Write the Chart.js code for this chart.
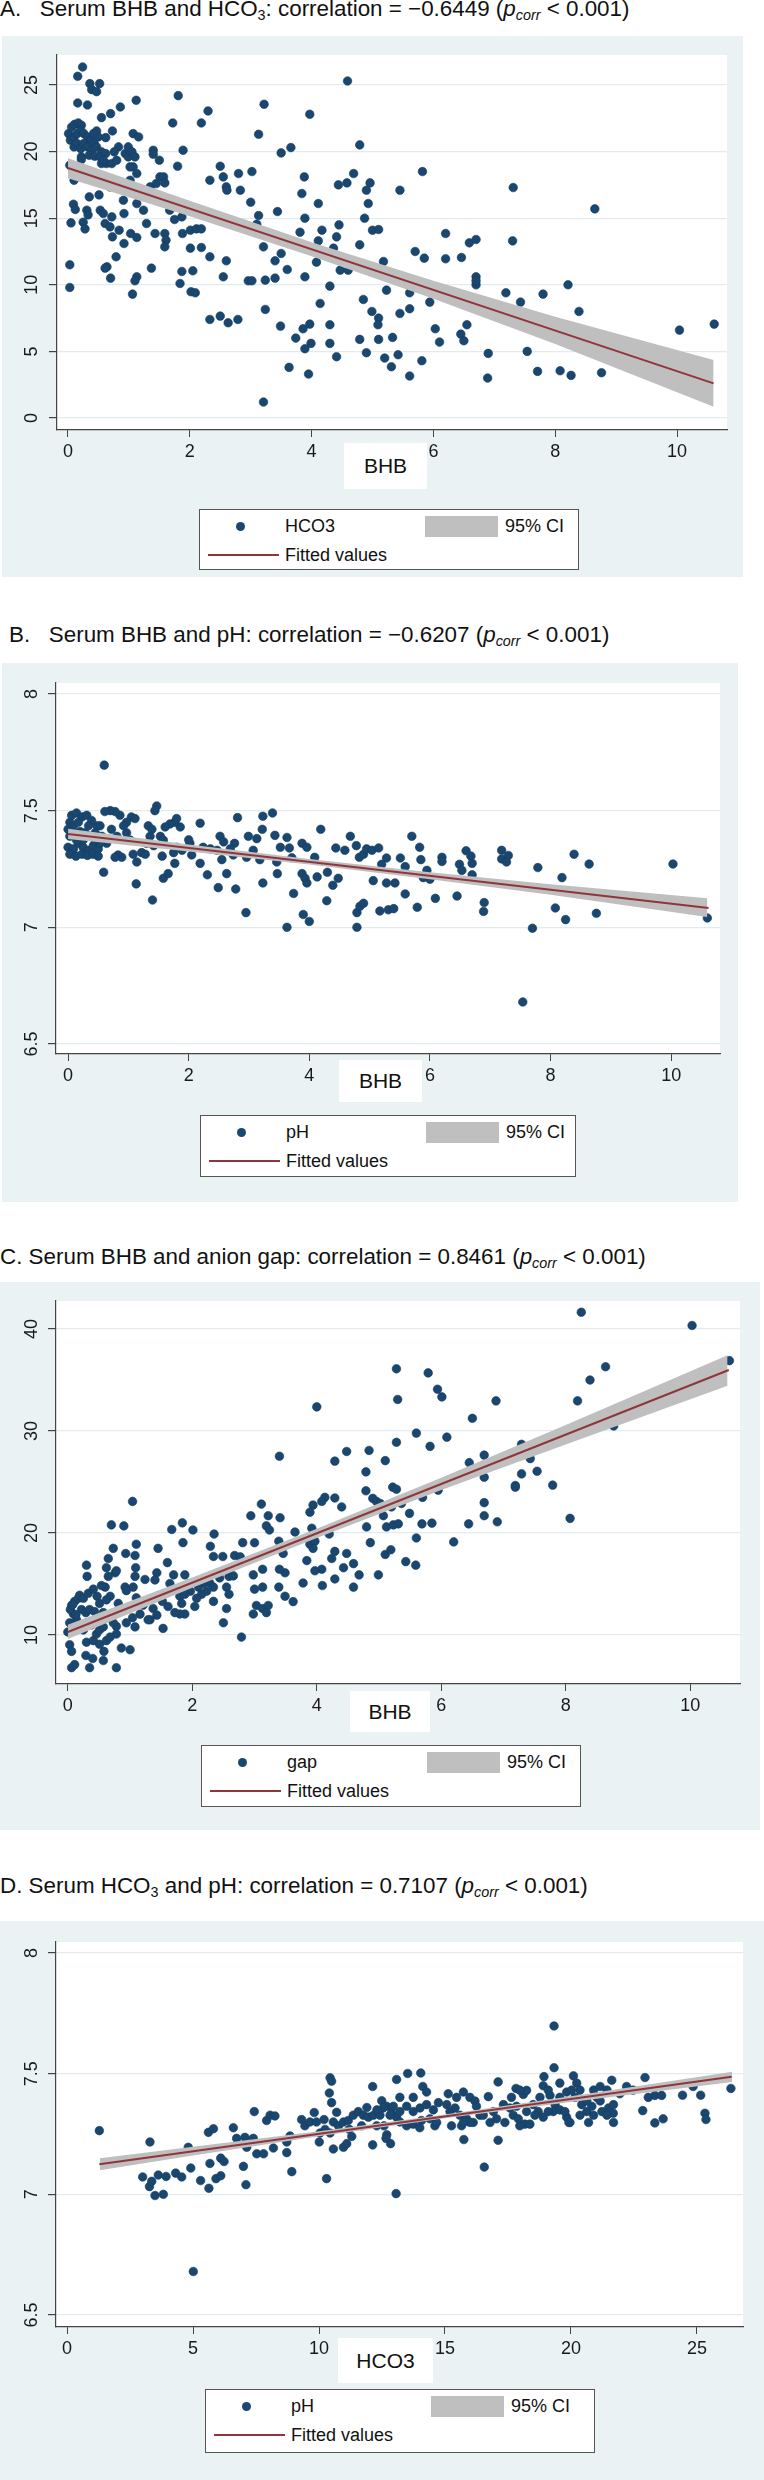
<!DOCTYPE html>
<html lang="en">
<head>
<meta charset="UTF-8">
<title>Serum BHB, HCO3, pH and anion gap</title>
<script src="https://cdn.jsdelivr.net/npm/chart.js"></script>
<style>
  body { margin: 0; width: 764px; height: 2480px; position: relative; overflow: hidden; background: #fff;
         font-family: "Liberation Sans", Arial, sans-serif; color: #111; }
  .title { position: absolute; font-size: 22.4px; line-height: 24px; white-space: nowrap; }
  .title sub { font-size: 64%; line-height: 0; vertical-align: -0.25em; }
  .bg { position: absolute; background: #eaf2f3; }
  .bg canvas { position: absolute; left: 0; top: 0; }
  .xtitle { position: absolute; background: #fff; font-size: 21px; text-align: center; }
  .legend { position: absolute; background: #fff; border: 1px solid #555; box-sizing: border-box; font-size: 18px; }
  .legend span { position: absolute; white-space: nowrap; line-height: 20px; }
  .legend .dot { width: 9px; height: 9px; border-radius: 50%; background: #1a476f; }
  .legend .band { background: #bfbfbf; }
  .legend .fit { height: 2px; background: #90353b; }
</style>
</head>
<body>
<script>
// ---- data ----
const bhbTicks = [0, 2, 4, 6, 8, 10];
const hco3Ticks = [0, 5, 10, 15, 20, 25];
const phTicks = [6.5, 7, 7.5, 8];
const gapTicks = [10, 20, 30, 40];

// A: BHB vs HCO3
const pointsA = [
  [0.24,26.35],[0.16,25.65],[0.36,25.1],[0.39,24.65],[0.47,24.5],[0.52,25.1],[0.16,23.65],[0.32,23.5],[0.55,22.55],[0.70,22.85],
  [0.86,23.35],[1.12,23.85],[1.81,24.2],[2.30,23.05],[2.19,22.15],[1.72,22.15],[3.22,23.55],[3.97,22.8],[4.59,25.3],[3.13,21.3],
  [0.47,21.55],[0.73,21.55],[1.07,21.35],[1.16,21.1],[1.40,20.1],[1.40,19.8],[1.89,20.1],[3.50,19.9],[3.66,20.3],[4.79,20.5],
  [1.50,19.35],[1.51,18.1],[1.80,18.9],[2.50,18.9],[2.55,18.1],[2.60,17.35],[2.61,17.1],[2.80,18.35],[2.83,17.1],[3.02,18.5],
  [2.33,17.85],[3.88,18.1],[3.84,16.85],[4.69,18.35],[4.44,17.5],[4.58,17.65],[4.11,16.1],[3.00,16.2],[3.13,15.2],[3.10,14.55],
  [3.44,15.5],[3.89,15.0],[3.81,13.95],[4.17,14.1],[4.11,13.3],[4.45,14.5],[4.41,13.6],[4.36,12.75],[1.57,18.1],[1.59,17.65],
  [1.35,17.35],[1.45,17.6],[1.13,18.35],[1.02,17.85],[0.10,17.85],[0.06,18.85],[0.69,17.35],[0.35,16.6],[0.51,16.75],[0.09,16.05],
  [0.12,15.65],[0.31,15.6],[0.33,15.25],[0.53,15.6],[0.58,15.35],[0.91,16.35],[0.92,15.35],[1.13,16.1],[1.24,15.6],[0.05,14.65],
  [0.25,14.7],[0.28,14.2],[0.61,14.6],[0.69,14.35],[0.72,15.1],[0.84,14.1],[0.73,13.6],[0.92,13.1],[1.03,13.85],[1.13,13.55],
  [1.29,14.6],[1.43,13.85],[1.59,13.85],[1.61,13.35],[1.59,12.85],[1.67,15.6],[1.75,14.9],[1.88,13.85],[2.01,14.1],[2.11,14.2],
  [2.19,14.2],[2.01,12.75],[2.19,12.8],[1.87,15.1],[2.33,12.1],[2.60,11.8],[2.55,10.6],[1.37,11.25],[0.64,11.35],[0.61,11.25],
  [0.79,12.1],[0.70,10.5],[0.03,11.5],[0.03,9.8],[1.13,10.6],[1.10,10.3],[1.06,9.3],[1.87,11.0],[1.84,10.1],[2.05,11.05],
  [2.02,9.48],[2.09,9.4],[2.96,10.3],[3.02,10.3],[3.24,10.35],[3.40,10.5],[3.40,11.8],[3.50,12.35],[3.60,11.15],[3.21,12.85],
  [4.08,11.7],[3.89,10.6],[4.30,9.9],[4.14,8.6],[3.24,8.15],[2.33,7.4],[2.50,7.65],[2.63,7.15],[2.79,7.4],[3.49,6.9],
  [3.74,6.0],[3.86,6.7],[3.97,7.05],[3.99,5.6],[3.89,5.2],[4.30,7.0],[4.30,5.6],[4.41,4.6],[3.63,3.8],[3.95,3.3],
  [3.21,1.2],[4.47,11.1],[4.60,11.1],[4.79,13.0],[4.87,15.0],[4.93,16.1],[4.90,17.1],[4.96,17.65],[5.00,14.1],[5.10,14.15],
  [5.18,11.75],[5.23,9.6],[4.85,8.9],[4.99,8.0],[5.10,7.5],[5.09,7.0],[4.79,5.9],[4.90,4.9],[5.10,5.9],[5.20,4.5],
  [5.31,3.85],[5.33,6.05],[5.42,4.75],[5.45,7.85],[5.45,17.1],[5.61,8.2],[5.61,9.4],[5.61,3.15],[5.70,12.5],[5.81,4.3],
  [5.82,18.5],[5.85,12.0],[5.94,8.7],[6.03,6.7],[6.10,5.7],[6.20,13.85],[6.20,11.95],[6.46,12.05],[6.45,6.3],[6.50,5.8],
  [6.55,7.0],[6.59,13.15],[6.70,13.4],[6.70,10.6],[6.70,10.0],[6.70,10.3],[6.90,4.85],[6.89,3.0],[7.19,9.4],[7.30,13.3],
  [7.31,17.3],[7.43,8.7],[7.54,5.0],[7.71,3.5],[7.80,9.3],[8.08,3.55],[8.21,10.0],[8.26,3.2],[8.39,8.0],[8.65,15.7],
  [8.76,3.4],[10.04,6.6],[10.61,7.05],
  [0.01,21.35],[0.06,21.85],[0.11,22.05],[0.17,22.15],[0.22,21.98],[0.04,20.85],[0.10,21.1],[0.15,21.35],[0.21,21.6],[0.26,21.35],
  [0.32,21.1],[0.37,20.85],[0.43,20.6],[0.10,20.35],[0.15,20.6],[0.21,20.22],[0.26,20.6],[0.32,20.35],[0.39,20.1],[0.47,20.35],
  [0.55,19.98],[0.22,19.6],[0.35,19.72],[0.44,19.65],[0.53,19.6],[0.62,19.85],[0.63,19.1],[0.72,19.1],[0.80,19.35],[0.83,20.35],
  [0.76,19.98],[0.94,19.85],[0.99,19.6],[1.02,18.85],[0.55,19.1],[0.58,19.35],[0.22,19.4],[0.03,18.98],[0.50,21.1],[0.42,21.35],
  [0.62,21.05],[0.99,20.35],[1.05,19.98],[1.10,19.6],[1.07,18.85]
];
const fitXA = [0, 10.6];
const fitYA = [18.77, 2.6];
const ciXA = [0, 2, 4, 6, 8, 10.6];
const ciHiA = [19.5, 16.3, 13.2, 10.3, 7.6, 4.35];
const ciLoA = [18.0, 15.15, 12.15, 8.95, 5.55, 0.85];

// B: BHB vs pH
const pointsB = [
  [0.60,7.695],[1.47,7.52],[1.44,7.50],[0.59,7.236],[1.13,7.186],[1.40,7.117],[1.58,7.21],[1.66,7.23],[1.56,7.305],[2.19,7.446],
  [2.31,7.225],[2.49,7.17],[2.63,7.23],[2.78,7.164],[2.81,7.47],[2.95,7.063],[2.99,7.39],[3.13,7.38],[3.23,7.476],[3.22,7.42],
  [3.39,7.49],[3.23,7.19],[3.43,7.394],[3.63,7.385],[3.47,7.23],[3.74,7.145],[3.63,7.0],[3.88,7.36],[3.96,7.343],[3.88,7.23],
  [3.93,7.21],[3.96,7.19],[3.90,7.055],[4.00,7.025],[4.09,7.30],[4.13,7.216],[4.19,7.42],[4.29,7.114],[4.30,7.236],[4.39,7.18],
  [4.44,7.34],[4.48,7.21],[4.59,7.33],[4.68,7.39],[4.78,7.35],[4.79,7.0],[4.79,7.063],[4.84,7.09],[4.90,7.103],[4.83,7.30],
  [4.90,7.313],[4.95,7.336],[5.04,7.33],[5.15,7.34],[5.06,7.20],[3.71,7.298],[3.67,7.34],[3.52,7.343],[3.46,7.28],[3.07,7.33],
  [3.18,7.29],[2.96,7.30],[2.74,7.31],[2.76,7.36],[2.52,7.39],[2.47,7.33],[2.58,7.366],[2.69,7.336],[2.55,7.29],[2.36,7.336],
  [2.24,7.343],[2.19,7.274],[2.02,7.36],[2.00,7.375],[1.89,7.33],[1.80,7.343],[2.05,7.31],[1.75,7.32],[1.77,7.274],[1.86,7.43],
  [1.77,7.45],[1.69,7.443],[1.61,7.43],[1.80,7.466],[1.53,7.39],[1.58,7.374],[1.36,7.39],[1.30,7.36],[1.42,7.35],[1.33,7.435],
  [1.39,7.42],[1.22,7.32],[1.28,7.313],[1.08,7.313],[1.14,7.28],[1.03,7.374],[0.97,7.405],[1.05,7.473],[1.11,7.466],[0.97,7.45],
  [0.92,7.435],[0.86,7.48],[0.78,7.496],[0.70,7.50],[0.61,7.496],[0.83,7.31],[0.89,7.30],[0.78,7.30],[0.81,7.39],[0.72,7.42],
  [0.64,7.36],[0.56,7.39],[0.53,7.435],
  [0.00,7.42],[0.03,7.45],[0.06,7.48],[0.14,7.49],[0.23,7.473],[0.31,7.48],[0.39,7.458],[0.48,7.435],[0.03,7.39],[0.12,7.40],
  [0.20,7.41],[0.28,7.405],[0.36,7.39],[0.45,7.405],[0.00,7.343],[0.09,7.336],[0.17,7.36],[0.25,7.343],[0.34,7.33],[0.42,7.35],
  [0.50,7.336],[0.03,7.313],[0.13,7.305],[0.23,7.313],[0.32,7.308],[0.41,7.313],[0.50,7.305],[0.09,7.435],[0.17,7.45],[0.34,7.435],
  [0.25,7.374],[0.14,7.374],[0.53,7.36],[0.45,7.374],
  [5.70,7.39],[5.83,7.343],[5.85,7.29],[5.95,7.244],[6.00,7.206],[5.89,7.213],[6.20,7.30],[6.20,7.282],[6.09,7.124],[5.79,7.086],
  [6.45,7.134],[6.49,7.27],[6.53,7.244],[6.60,7.328],[6.68,7.305],[6.70,7.274],[6.70,7.225],[6.90,7.106],[6.89,7.068],[7.19,7.33],
  [7.19,7.293],[7.30,7.308],[7.27,7.28],[7.54,6.68],[7.70,6.996],[7.79,7.256],[8.08,7.083],[8.19,7.213],[8.25,7.033],[8.39,7.313],
  [8.64,7.271],[8.76,7.06],[10.03,7.271],[10.60,7.04],[5.28,7.297],[5.20,7.27],[5.28,7.19],[5.42,7.19],[5.17,7.07],[5.31,7.075],
  [5.51,7.297],[5.59,7.26],[5.59,7.143],[5.40,7.08]
];
const fitXB = [0, 10.62];
const fitYB = [7.40, 7.083];
const ciXB = [0, 2, 4, 6, 8, 10.6];
const ciHiB = [7.422, 7.355, 7.293, 7.236, 7.185, 7.124];
const ciLoB = [7.378, 7.325, 7.269, 7.206, 7.139, 7.044];

// C: BHB vs anion gap
const pointsC = [
  [4.00,32.37],[3.40,27.53],[4.29,27.05],[4.48,28.0],[4.79,26.0],[4.84,28.1],[4.79,24.14],[5.10,27.1],[5.28,36.1],[5.28,28.9],
  [5.22,24.5],[5.28,24.3],[4.29,23.44],[4.40,22.56],[4.13,23.5],[4.08,23.1],[3.94,22.74],[3.89,22.04],[3.11,22.84],[2.94,21.7],
  [3.22,21.7],[3.19,20.7],[3.41,21.5],[3.65,20.1],[3.92,20.47],[4.20,19.9],[4.80,20.6],[4.90,23.4],[4.96,23.1],[5.02,22.9],
  [5.07,21.7],[5.12,20.6],[5.23,20.8],[4.86,19.06],[4.99,15.9],[5.10,17.9],[5.19,18.36],[4.59,17.0],[4.68,15.9],[4.59,14.7],
  [4.43,16.6],[4.48,18.0],[4.29,18.2],[4.24,17.5],[4.29,15.5],[4.08,16.45],[3.97,16.3],[4.09,14.85],[3.84,17.3],[3.78,15.1],
  [3.89,18.9],[3.97,19.2],[3.94,18.5],[3.62,13.28],[3.49,13.8],[3.49,16.1],[3.40,16.45],[3.39,14.7],[3.46,18.0],[3.39,19.2],
  [3.24,20.3],[3.13,16.45],[3.13,14.7],[2.98,15.9],[3.00,14.5],[3.00,19.05],[3.03,12.9],[3.13,12.6],[3.22,12.9],[2.98,12.06],
  [3.19,12.2],[2.81,19.06],[2.68,17.8],[2.77,17.66],[2.79,9.8],[2.60,16.45],[2.59,15.75],[2.66,15.8],[2.55,14.7],[2.59,14.0],
  [2.55,12.6],[2.50,11.2],[2.44,15.6],[2.49,17.7],[2.34,17.7],[2.29,18.7],[2.35,19.9],[2.28,15.1],[2.34,14.7],[2.34,13.3],
  [2.23,14.3],[2.15,14.0],[2.18,15.05],[2.10,14.7],[2.07,13.6],[2.01,20.3],[1.97,14.3],[2.04,12.8],[1.95,15.05],[1.88,15.9],
  [1.85,19.06],[1.84,21.0],[1.83,14.7],[1.80,13.8],[1.88,14.0],[1.83,13.1],[1.88,12.06],[1.80,12.06],[1.67,20.35],[1.60,17.1],
  [1.70,15.9],[1.64,15.05],[1.72,12.2],[1.61,12.8],[1.53,14.0],[1.52,13.3],[1.45,18.5],[1.43,16.1],[1.40,15.4],[1.37,12.6],
  [1.43,11.95],[1.32,11.5],[1.53,10.65],[1.24,15.45],[1.21,12.93],[1.16,12.05],[1.29,11.5],[1.10,18.9],[1.08,17.8],[1.04,23.1],
  [1.09,16.6],[1.08,15.75],[1.05,14.7],[1.10,13.65],[1.04,11.7],[1.08,10.8],[0.93,18.0],[0.90,20.7],[0.73,18.5],[0.70,20.8],
  [0.92,14.7],[0.94,14.35],[0.97,12.6],[0.94,11.2],[1.00,8.56],[0.86,8.73],[0.78,6.8],[0.76,16.1],[0.62,16.6],[0.65,15.75],
  [0.81,13.1],[0.81,12.2],[0.78,10.85],[0.78,10.1],[0.68,13.8],[0.60,14.7],[0.54,14.85],[0.58,8.4],[0.72,11.9],[0.73,11.2],
  [0.03,9.05],[0.06,8.4],[0.06,6.8],[0.11,7.1],[0.29,8.0],[0.35,6.8],[0.40,7.7],[0.57,7.5],[0.30,9.3],[0.41,9.45],
  [0.51,9.1],[0.62,9.45],[0.68,9.8],[0.46,10.1],[0.51,10.5],[0.57,10.8],[0.30,11.2],[0.14,11.5],[0.09,12.06],[0.03,11.2],
  [0.00,10.3],[0.06,12.9],[0.11,13.3],[0.17,13.6],[0.22,12.5],[0.29,12.2],[0.35,12.5],[0.43,12.3],[0.19,13.9],[0.25,13.6],
  [0.33,14.1],[0.30,16.85],[0.31,15.75],[0.41,14.5],[0.47,13.8],[0.51,13.1],[0.57,12.2],[0.61,11.7],[0.62,13.45],[0.65,17.5],
  [0.78,16.3],[0.04,12.5],[0.08,13.0],[0.13,12.0],[0.20,11.0],[0.25,10.5],[0.38,11.0],[0.45,11.5],
  [8.25,41.65],[10.03,40.35],[10.63,36.9],[5.79,35.7],[5.94,34.1],[6.01,33.35],[5.30,33.1],[6.50,31.25],[6.88,32.96],[8.64,36.3],
  [8.39,35.0],[8.19,32.96],[5.60,29.8],[6.09,29.4],[5.82,28.5],[6.45,26.9],[6.69,27.64],[6.69,25.47],[7.29,28.7],[7.43,27.3],
  [7.29,25.8],[7.19,24.66],[7.19,24.5],[7.54,26.06],[7.79,24.7],[8.77,30.5],[8.07,21.44],[5.70,23.5],[5.95,24.2],[5.36,22.9],
  [5.20,22.56],[5.49,21.93],[5.31,20.9],[5.69,20.9],[5.85,20.97],[5.60,19.52],[6.44,20.9],[6.69,22.98],[6.69,21.7],[6.90,21.1],
  [6.20,19.13],[5.43,17.2],[5.59,16.85]
];
const fitXC = [0, 10.62];
const fitYC = [10.3, 35.98];
const ciXC = [0, 2, 4, 6, 8, 10.6];
const ciHiC = [11.0, 15.64, 20.42, 25.41, 30.59, 37.43];
const ciLoC = [9.6, 14.64, 19.52, 24.21, 28.69, 34.43];

// D: HCO3 vs pH
const pointsD = [
  [1.28,7.264],[3.29,7.217],[3.00,7.072],[3.27,7.032],[3.36,7.054],[3.49,6.995],[3.82,7.0],[3.62,7.08],[3.93,7.074],[4.31,7.088],
  [4.55,7.072],[4.81,7.195],[4.91,7.109],[5.01,6.68],[5.30,7.057],[5.63,7.025],[5.61,7.257],[5.81,7.272],[5.67,7.128],[5.91,7.065],
  [6.10,7.077],[6.10,7.15],[6.23,7.136],[6.60,7.276],[6.73,7.232],[7.06,7.236],[7.39,7.232],[7.00,7.116],[7.10,7.04],[7.13,7.195],
  [7.43,7.343],[7.53,7.168],[7.80,7.168],[7.92,7.306],[8.06,7.328],[8.25,7.325],[8.19,7.192],[8.72,7.173],[8.72,7.217],[8.85,7.242],
  [8.92,7.094],[9.31,7.31],[9.44,7.284],[9.64,7.30],[9.81,7.339],[10.04,7.254],[10.24,7.269],[10.44,7.254],[10.01,7.217],[10.30,7.065],
  [10.44,7.483],[10.50,7.469],[10.41,7.42],[10.50,7.38],[10.57,7.188],[10.97,7.195],[11.10,7.21],[10.57,7.30],[10.77,7.284],[10.97,7.30],
  [11.16,7.306],[11.30,7.24],[11.36,7.328],[11.56,7.343],[11.76,7.328],[11.96,7.32],[11.69,7.284],[12.13,7.447],[12.13,7.205],[12.16,7.328],
  [12.29,7.284],[12.49,7.388],[12.69,7.365],[12.88,7.336],[12.69,7.247],[12.84,7.21],[13.08,7.476],[13.06,7.003],[13.08,7.32],[12.55,7.358],
  [12.42,7.328],[13.52,7.501],[14.04,7.503],[14.12,7.447],[12.95,7.365],[13.21,7.343],[13.48,7.365],[13.74,7.343],[14.01,7.358],[14.27,7.372],
  [14.54,7.35],[14.74,7.38],[13.21,7.30],[13.48,7.284],[13.74,7.291],[14.07,7.306],[14.40,7.313],[14.60,7.284],[15.13,7.417],[15.46,7.402],
  [15.73,7.424],[15.99,7.402],[16.19,7.387],[15.20,7.343],[15.59,7.328],[15.86,7.313],[16.12,7.298],[16.39,7.328],[15.26,7.284],[15.66,7.284],
  [15.99,7.298],[15.75,7.227],[16.72,7.405],[16.56,7.113],[17.11,7.466],[17.11,7.224],[16.92,7.343],[17.32,7.372],[17.58,7.358],[17.05,7.313],
  [17.38,7.298],[17.71,7.328],[17.82,7.439],[18.11,7.414],[18.24,7.431],[17.91,7.313],[18.17,7.291],[17.97,7.284],[18.50,7.372],[18.70,7.343],
  [18.90,7.32],[18.57,7.328],[18.93,7.488],[18.90,7.45],[19.33,7.698],[19.33,7.525],[19.17,7.41],[19.37,7.372],[19.56,7.461],[19.30,7.343],
  [19.10,7.432],[19.56,7.35],[19.83,7.32],[19.96,7.298],[19.83,7.424],[20.10,7.491],[20.23,7.461],[20.36,7.432],[20.16,7.402],[20.43,7.372],
  [20.63,7.343],[20.83,7.365],[21.03,7.402],[20.90,7.432],[21.16,7.447],[21.43,7.432],[21.62,7.473],[21.23,7.343],[21.49,7.358],[21.68,7.336],
  [19.92,7.298],[21.94,7.417],[22.21,7.447],[22.47,7.432],[22.85,7.347],[22.94,7.484],[23.07,7.402],[23.33,7.41],[23.60,7.41],[23.33,7.296],
  [23.66,7.313],[24.43,7.411],[24.85,7.447],[25.15,7.411],[25.32,7.336],[25.36,7.31],[26.35,7.439],[12.58,7.284],[12.66,7.232],
  [15.07,7.372],[15.40,7.358],[16.25,7.365],[16.52,7.328],[16.79,7.298],[17.64,7.402],[17.84,7.365],[18.24,7.343],[18.37,7.291],[18.77,7.402],
  [19.10,7.343],[19.56,7.402],[19.76,7.343],[20.36,7.328],[20.63,7.387],[20.90,7.328],[21.16,7.387],[21.43,7.328],[21.69,7.372],[13.74,7.402],
  [14.27,7.424],[13.21,7.402],[12.82,7.328],[15.73,7.298],[14.67,7.298],[14.00,7.276],[17.97,7.432],[20.03,7.432],[20.70,7.298],[21.69,7.298],
  [9.90,7.30],[10.20,7.31],[10.70,7.34],[11.20,7.27],[11.90,7.36],[12.30,7.35]
];
const fitXD = [1.28, 26.38];
const fitYD = [7.125, 7.487];
const ciXD = [1.3, 5, 10, 15, 20, 26.4];
const ciHiD = [7.150, 7.197, 7.261, 7.331, 7.407, 7.508];
const ciLoD = [7.100, 7.161, 7.241, 7.315, 7.383, 7.466];

// ---- layout of the four Stata panels (page pixels) ----
const panels = [
  { title: 'A.&nbsp;&nbsp; Serum BHB and HCO<sub>3</sub>: correlation = \u22120.6449 (<i>p<sub>corr</sub></i> &lt; 0.001)',
    titleAt: [0, -3], bg: [2, 36, 741, 541], plot: [57, 55, 727, 430], yPad: 6.5,
    xr: [-0.18, 10.82], yr: [-0.9, 27.25], xt: bhbTicks, yt: hco3Ticks,
    pts: pointsA, fx: fitXA, fy: fitYA, cx: ciXA, chi: ciHiA, clo: ciLoA,
    xName: 'BHB', xBox: [344, 443, 83, 46], yName: 'HCO3', legend: [199, 509, 380, 61] },
  { title: 'B.&nbsp;&nbsp; Serum BHB and pH: correlation = \u22120.6207 (<i>p<sub>corr</sub></i> &lt; 0.001)',
    titleAt: [9, 623], bg: [2, 663, 736, 539], plot: [56, 683, 720, 1054], yPad: 3,
    xr: [-0.2, 10.81], yr: [6.457, 8.047], xt: bhbTicks, yt: phTicks,
    pts: pointsB, fx: fitXB, fy: fitYB, cx: ciXB, chi: ciHiB, clo: ciLoB,
    xName: 'BHB', xBox: [339, 1060, 83, 42], yName: 'pH', legend: [200, 1115, 376, 62] },
  { title: 'C. Serum BHB and anion gap: correlation = 0.8461 (<i>p<sub>corr</sub></i> &lt; 0.001)',
    titleAt: [0, 1245], bg: [0, 1282, 760, 548], plot: [56, 1301, 740, 1684], yPad: 5.5,
    xr: [-0.19, 10.8], yr: [5.2, 42.75], xt: bhbTicks, yt: gapTicks,
    pts: pointsC, fx: fitXC, fy: fitYC, cx: ciXC, chi: ciHiC, clo: ciLoC,
    xName: 'BHB', xBox: [350, 1691, 80, 41], yName: 'gap', legend: [201, 1745, 380, 62] },
  { title: 'D. Serum HCO<sub>3</sub> and pH: correlation = 0.7107 (<i>p<sub>corr</sub></i> &lt; 0.001)',
    titleAt: [0, 1874], bg: [0, 1921, 764, 559], plot: [56, 1942, 743, 2327], yPad: 3,
    xr: [-0.44, 26.83], yr: [6.45, 8.046], xt: hco3Ticks, yt: phTicks,
    pts: pointsD, fx: fitXD, fy: fitYD, cx: ciXD, chi: ciHiD, clo: ciLoD,
    xName: 'HCO3', xBox: [338, 2338, 95, 45], yName: 'pH', legend: [205, 2389, 390, 64] }
];

const NAVY = '#1a476f', MAROON = '#90353b', BAND = '#bfbfbf';
const FONT = { family: 'Liberation Sans, Arial, sans-serif', size: 18 };
const XAXIS_H = 40;

// white plot region inside the tinted graph region
const plotBg = {
  id: 'plotBg',
  beforeDraw(chart) {
    const { ctx, chartArea: a } = chart;
    ctx.save();
    ctx.fillStyle = '#fff';
    ctx.fillRect(a.left, a.top, a.right - a.left, a.bottom - a.top);
    ctx.restore();
  }
};

function el(tag, cls, css, html) {
  const d = document.createElement(tag);
  if (cls) d.className = cls;
  Object.assign(d.style, css);
  if (html !== undefined) d.innerHTML = html;
  document.body.appendChild(d);
  return d;
}

const xy = (xs, ys) => xs.map((x, i) => ({ x: x, y: ys[i] }));
const plainTick = v => String(v);   // Stata prints 8, 7.5, 7 (no forced decimals)

panels.forEach(p => {
  el('div', 'title', { left: p.titleAt[0] + 'px', top: p.titleAt[1] + 'px' }, p.title);

  const [bx, by, bw, bh] = p.bg;
  const box = el('div', 'bg', { left: bx + 'px', top: by + 'px', width: bw + 'px', height: bh + 'px' });
  const cv = document.createElement('canvas');
  cv.width = bw; cv.height = bh;
  box.appendChild(cv);

  const area = { left: p.plot[0] - bx, top: p.plot[1] - by, right: p.plot[2] - bx, bottom: p.plot[3] - by };

  new Chart(cv.getContext('2d'), {
    type: 'scatter',
    data: {
      datasets: [
        { type: 'line', data: xy(p.fx, p.fy), borderColor: MAROON, borderWidth: 2, pointRadius: 0, fill: false, order: 0 },
        { type: 'line', data: xy(p.cx, p.chi), borderWidth: 0, pointRadius: 0, backgroundColor: BAND, fill: '+1', order: 1 },
        { type: 'line', data: xy(p.cx, p.clo), borderWidth: 0, pointRadius: 0, fill: false, order: 2 },
        { data: p.pts.map(d => ({ x: d[0], y: d[1] })), backgroundColor: NAVY, borderColor: '#163d60',
          borderWidth: 0.6, pointRadius: 4.3, order: 3 }
      ]
    },
    options: {
      responsive: false, animation: false, devicePixelRatio: 1,
      layout: { padding: { left: 0, top: area.top, right: bw - area.right, bottom: bh - area.bottom - XAXIS_H } },
      plugins: { legend: { display: false }, tooltip: { enabled: false } },
      scales: {
        x: {
          type: 'linear', min: p.xr[0], max: p.xr[1],
          afterBuildTicks: s => { s.ticks = p.xt.map(v => ({ value: v })); },
          afterFit: s => { s.height = XAXIS_H; },
          grid: { drawOnChartArea: false, tickLength: 7, tickColor: '#444' },
          border: { color: '#444', width: 1.2 },
          ticks: { font: FONT, color: '#1a1a1a', padding: 4, maxRotation: 0, autoSkip: false, callback: plainTick }
        },
        y: {
          type: 'linear', min: p.yr[0], max: p.yr[1],
          afterBuildTicks: s => { s.ticks = p.yt.map(v => ({ value: v })); },
          afterFit: s => { s.width = area.left; },
          grid: { color: '#e2ebee', lineWidth: 1.2, tickLength: 8, tickColor: '#444' },
          border: { color: '#444', width: 1.2 },
          ticks: { font: FONT, color: '#1a1a1a', padding: p.yPad, minRotation: 90, maxRotation: 90,
                   crossAlign: 'center', autoSkip: false, callback: plainTick }
        }
      }
    },
    plugins: [plotBg]
  });

  const [tx, ty, tw, th] = p.xBox;
  el('div', 'xtitle', { left: tx + 'px', top: ty + 'px', width: tw + 'px', height: th + 'px', lineHeight: th + 'px' }, p.xName);

  const [lx, ly, lw, lh] = p.legend;
  const lg = el('div', 'legend', { left: lx + 'px', top: ly + 'px', width: lw + 'px', height: lh + 'px' });
  lg.innerHTML =
    '<span class="dot" style="left:36px;top:12px"></span>' +
    '<span style="left:85px;top:6px">' + p.yName + '</span>' +
    '<span class="band" style="left:225px;top:6px;width:73px;height:21px"></span>' +
    '<span style="left:305px;top:6px">95% CI</span>' +
    '<span class="fit" style="left:8px;top:44px;width:71px"></span>' +
    '<span style="left:85px;top:35px">Fitted values</span>';
});
</script>
</body>
</html>
